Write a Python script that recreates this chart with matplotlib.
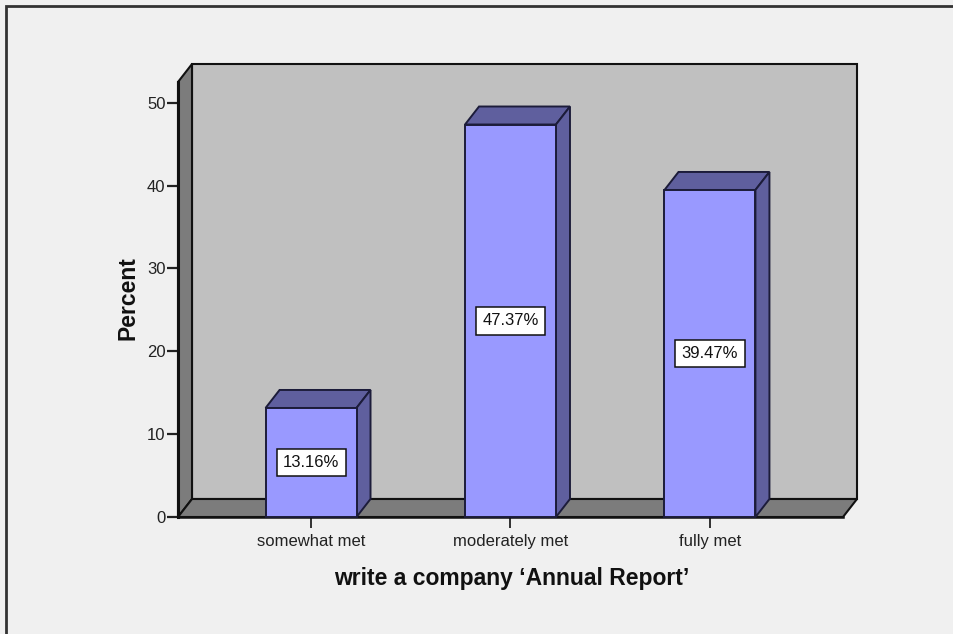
"""SPSS-style 3D bar chart: write a company 'Annual Report'."""

import matplotlib

matplotlib.use("Agg")
import matplotlib.pyplot as plt
from matplotlib.patches import Polygon, Rectangle

CATEGORIES = ["somewhat met", "moderately met", "fully met"]
PERCENTS = [13.16, 47.37, 39.47]
Y_TICKS = [0, 10, 20, 30, 40, 50]

FRONT = "#9999ff"
SHADE = "#5f5f9e"
EDGE = "#1c1c3a"
WALL = "#c0c0c0"
SIDE_WALL = "#7c7c7c"
BG = "#f0f0f0"

plt.rcParams["font.family"] = ["Liberation Sans", "DejaVu Sans"]

W_PX, H_PX = 954, 634
X_LIM = (-0.667, 2.667)
Y_MAX = 52.5
BAR_W = 0.456
DEPTH_PX = (14, 18)


def poly(ax, pts, color, z):
    ax.add_patch(Polygon(pts, closed=True, facecolor=color, edgecolor="#111111",
                         linewidth=1.5, zorder=z, clip_on=False))


def main():
    fig = plt.figure(figsize=(W_PX / 100, H_PX / 100), dpi=100, facecolor=BG)
    left, right, bottom, top = 178, 843, 517, 82
    ax = fig.add_axes([left / W_PX, 1 - bottom / H_PX,
                       (right - left) / W_PX, (bottom - top) / H_PX])
    ax.set_facecolor("none")
    ax.set_xlim(*X_LIM)
    ax.set_ylim(0, Y_MAX)

    # depth offset in data units
    dx = DEPTH_PX[0] / (right - left) * (X_LIM[1] - X_LIM[0])
    dy = DEPTH_PX[1] / (bottom - top) * Y_MAX
    x0, x1 = X_LIM

    # walls and floor
    poly(ax, [(x0 + dx, dy), (x1 + dx, dy), (x1 + dx, Y_MAX + dy), (x0 + dx, Y_MAX + dy)], WALL, 1)
    poly(ax, [(x0, 0), (x0, Y_MAX), (x0 + dx, Y_MAX + dy), (x0 + dx, dy)], SIDE_WALL, 2)
    poly(ax, [(x0, 0), (x1, 0), (x1 + dx, dy), (x0 + dx, dy)], SIDE_WALL, 2)
    # heavier front axis lines
    ax.plot([x0, x0], [0, Y_MAX], color="#111111", linewidth=2.2, zorder=5, clip_on=False)
    ax.plot([x0, x1], [0, 0], color="#111111", linewidth=1.8, zorder=2.5, clip_on=False)

    for i, value in enumerate(PERCENTS):
        a, b = i - BAR_W / 2, i + BAR_W / 2
        ax.add_patch(Rectangle((a, 0), BAR_W, value, facecolor=FRONT, edgecolor=EDGE,
                               linewidth=1.4, zorder=4, clip_on=False))
        ax.add_patch(Polygon([(a, value), (b, value), (b + dx, value + dy), (a + dx, value + dy)],
                             facecolor=SHADE, edgecolor=EDGE, linewidth=1.4, zorder=3, clip_on=False))
        ax.add_patch(Polygon([(b, 0), (b + dx, dy), (b + dx, value + dy), (b, value)],
                             facecolor=SHADE, edgecolor=EDGE, linewidth=1.4, zorder=3, clip_on=False))
        ax.text(i, value / 2, f"{value:.2f}%", ha="center", va="center", fontsize=12,
                color="#111111", zorder=6,
                bbox=dict(boxstyle="square,pad=0.38", facecolor="white", edgecolor="#111111",
                          linewidth=1.1))

    for spine in ax.spines.values():
        spine.set_visible(False)
    ax.set_yticks(Y_TICKS)
    ax.set_xticks(range(len(CATEGORIES)))
    ax.set_xticklabels(CATEGORIES)
    ax.tick_params(axis="y", length=8, width=1.6, pad=1, labelsize=12, colors="#222222")
    ax.tick_params(axis="x", length=8, width=1.3, pad=4, labelsize=12, colors="#222222")

    fig.text(512 / W_PX, 1 - 578 / H_PX, "write a company \u2018Annual Report\u2019",
             ha="center", va="center", fontsize=16.5, fontweight="bold", color="#111111")
    fig.text(128 / W_PX, 1 - 298 / H_PX, "Percent", ha="center", va="center", rotation=90,
             fontsize=16.5, fontweight="bold", color="#111111")

    # outer frame (cropped on right and bottom)
    fig.patches.append(Rectangle((6 / W_PX, -0.1), 1.2, 1 - 6 / H_PX + 0.1, transform=fig.transFigure,
                                 fill=False, edgecolor="#333333", linewidth=2))

    fig.savefig("out.png", dpi=100, facecolor=BG)
    plt.close(fig)


if __name__ == "__main__":
    main()
